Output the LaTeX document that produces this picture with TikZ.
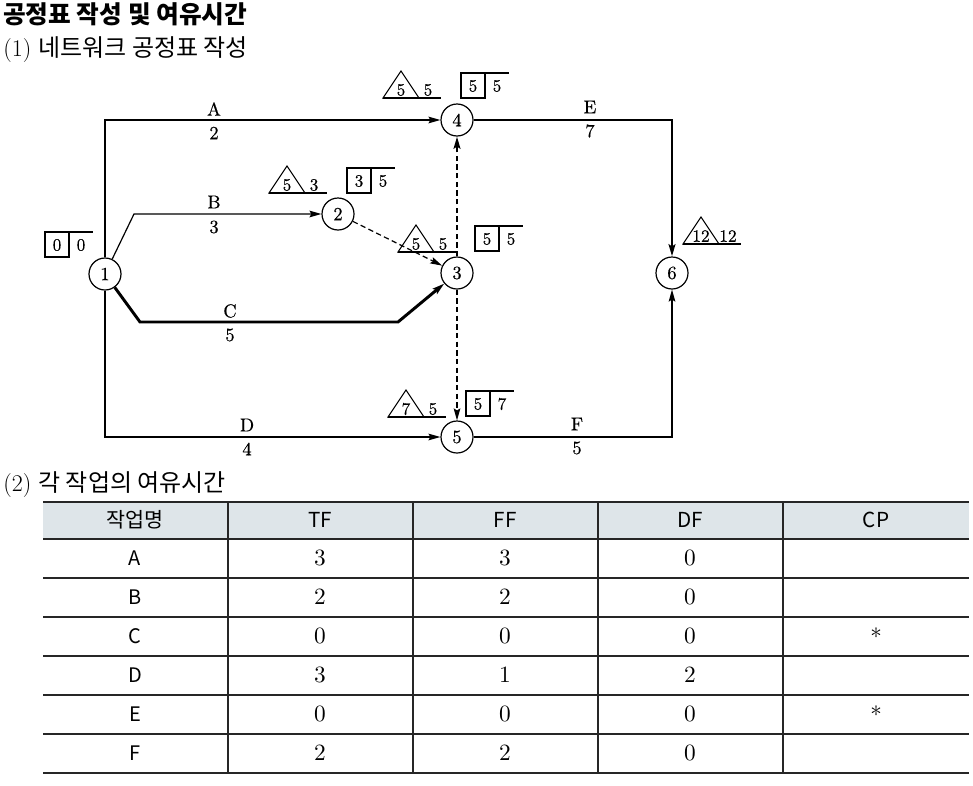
\documentclass[tikz,border=0pt]{standalone}
\usepackage{fontspec}
\newfontfamily\kr{Noto Sans CJK KR}
\newfontfamily\dia{lmroman10-regular.otf}[FakeBold=0.35]
\newfontfamily\tabnum{lmroman10-regular.otf}
\usepackage{tikz}
\usetikzlibrary{positioning,arrows.meta,calc}
\definecolor{headfill}{HTML}{DEE5E9}
\tikzset{
  event/.style  = {draw, circle, line width=0.9pt, minimum size=24pt, inner sep=0pt,
                   fill=white, font=\dia\fontsize{14}{15}\selectfont},
  act/.style    = {-{Stealth[length=9pt,width=5pt,inset=1.5pt]}, line width=0.9pt},
  crit/.style   = {act, line width=2.2pt},
  dummy/.style  = {act, dash pattern=on 4pt off 2.5pt},
  critdummy/.style = {dummy, line width=1.8pt},
  lbl/.style    = {inner sep=0pt, font=\dia\fontsize{14}{16}\selectfont},
  num/.style    = {inner sep=0pt, font=\dia\fontsize{13}{14}\selectfont},
  tri line/.style = {line width=0.8pt},
  box line/.style = {line width=0.8pt},
  head/.style   = {inner sep=0pt, font=\kr\fontsize{15.5}{17}\selectfont},
  cellsans/.style = {inner sep=0pt, font=\kr\fontsize{15}{17}\selectfont},
  cellnum/.style  = {inner sep=0pt, font=\tabnum\fontsize{17.5}{19}\selectfont},
  rule/.style   = {line width=1pt, black!85},
  vrule/.style  = {line width=0.8pt, black!85},
}
% earliest / latest marks
\newcommand{\trimark}[4]{%
  \coordinate (#1) at #2;
  \draw[tri line] (#1) -- ++(18,-27) -- ++(18,27) -- cycle;
  \draw[tri line] (#1) -- ++(58,0);
  \node[num] (#1i) at ($(#1)+(18,-8)$) {#3};
  \node[num] (#1o) at ($(#1)+(45,-8)$) {#4};
}
\newcommand{\boxmark}[4]{%
  \coordinate (#1) at #2;
  \draw[box line] (#1) rectangle ++(24,25);
  \draw[box line] (#1) -- ++(48,0);
  \node[num] (#1i) at ($(#1)+(12,13)$) {#3};
  \node[num] (#1o) at ($(#1)+(36,13)$) {#4};
}

\begin{document}
\begin{tikzpicture}[x=0.75pt, y=-0.75pt]
  \useasboundingbox (0,0) rectangle (973,785);

  \node[anchor=west, inner sep=0pt, font=\kr\bfseries\fontsize{18.5}{20}\selectfont] (title) at (3,14) {공정표 작성 및 여유시간};
  \node[anchor=west, inner sep=0pt, font=\fontsize{18}{20}\selectfont] (sub1) at (3,50) {(1) {\kr 네트워크 공정표 작성}};

  % events
  \node[event] (n1) at (105,274) {1};
  \node[event] (n2) at (338,214) {2};
  \node[event] (n3) at (457,273) {3};
  \node[event] (n4) at (457,120) {4};
  \node[event] (n5) at (457,437) {5};
  \node[event] (n6) at (672,273) {6};
  \coordinate (b1) at (134,214);
  \coordinate (c1) at (140,322);
  \coordinate (c2) at (398,322);
  \coordinate (e1) at (672,120);

  % activities
  \draw[act] (n1) |- (n4);
  \draw[act] (n1) -- (b1) -- (n2);
  \draw[crit] (n1) -- (c1) -- (c2) -- (n3);
  \draw[act] (n1) |- (n5);
  \draw[crit] (n4) -- (e1) -- (n6);
  \draw[act] (n5) -| (n6);
  \draw[dummy] (n2) -- (n3);
  \draw[critdummy] (n3) -- (n4);
  \draw[dummy] (n3) -- (n5);

  \node[lbl] (lA) at (214,109) {A}; \node[lbl] (dA) at (214,133) {2};
  \node[lbl] (lB) at (214,202) {B}; \node[lbl] (dB) at (214,227) {3};
  \node[lbl] (lC) at (230,311) {C}; \node[lbl] (dC) at (230,335) {5};
  \node[lbl] (lD) at (247,425) {D}; \node[lbl] (dD) at (247,449) {4};
  \node[lbl] (lE) at (590,107) {E}; \node[lbl] (dE) at (590,131) {7};
  \node[lbl] (lF) at (577,424) {F}; \node[lbl] (dF) at (577,448) {5};

  \trimark{t4}{(383,98)}{5}{5}
  \trimark{t2}{(269,193)}{5}{3}
  \trimark{t3}{(398,252)}{5}{5}
  \trimark{t5}{(388,417)}{7}{5}
  \trimark{t6}{(683,244)}{12}{12}
  \boxmark{m1}{(45,232)}{0}{0}
  \boxmark{m2}{(347,168)}{3}{5}
  \boxmark{m3}{(475,226)}{5}{5}
  \boxmark{m4}{(461,73)}{5}{5}
  \boxmark{m5}{(466,391)}{5}{7}

  % table
  \node[anchor=west, inner sep=0pt, font=\fontsize{18}{20}\selectfont] (sub2) at (3,485) {(2) {\kr 각 작업의 여유시간}};
  \fill[headfill] (43,502) rectangle (969,539);
  \foreach \y in {502,539,578,617,656,695,734,773} \draw[rule] (43,\y) -- (969,\y);
  \foreach \x in {228,413,598,783} \draw[vrule] (\x,502) -- (\x,773);
  \node[head] (h1) at (135,520) {작업명};
  \node[head] (h2) at (320,520) {TF};
  \node[head] (h3) at (505,520) {FF};
  \node[head] (h4) at (690,520) {DF};
  \node[head] (h5) at (876,520) {CP};
  \foreach \job/\tf/\ff/\df/\cp [count=\r] in {A/3/3/0/{}, B/2/2/0/{}, C/0/0/0/$\ast$,
                                             D/3/1/2/{}, E/0/0/0/$\ast$, F/2/2/0/{}}{
    \node[cellsans] (job\r) at (135,519+39*\r) {\job};
    \node[cellnum] (tf\r) at (320,519+39*\r) {\tf};
    \node[cellnum] (ff\r) at (505,519+39*\r) {\ff};
    \node[cellnum] (df\r) at (690,519+39*\r) {\df};
    \node[cellnum] (cp\r) at (876,516+39*\r) {\cp};
  }
\end{tikzpicture}
\end{document}
